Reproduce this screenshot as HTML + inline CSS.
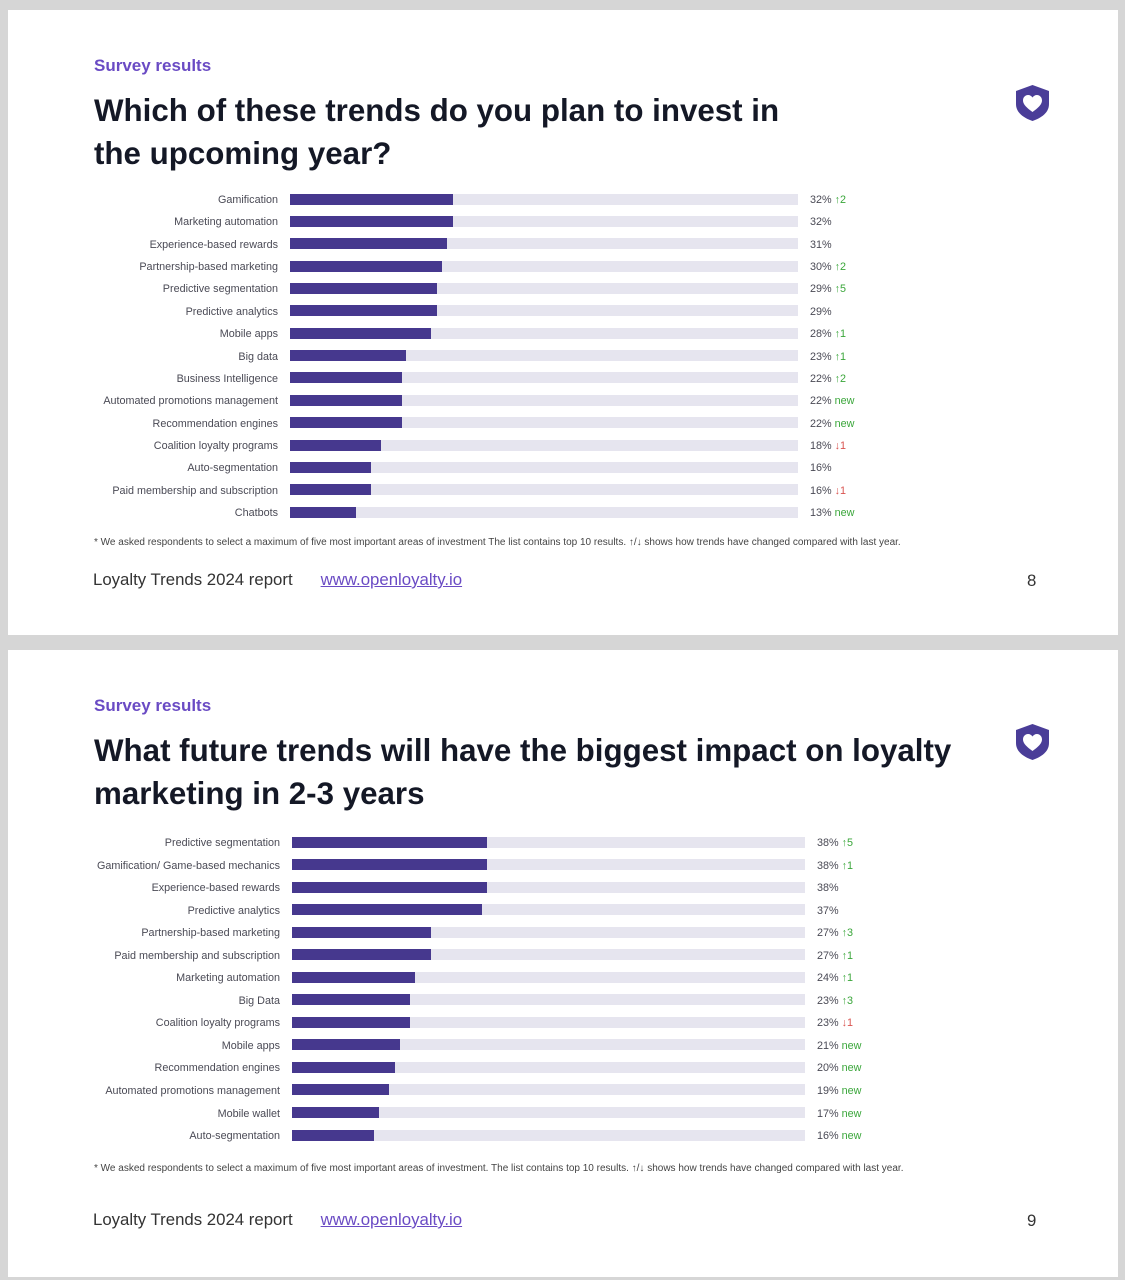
<!DOCTYPE html>
<html><head><meta charset="utf-8"><style>
*{margin:0;padding:0;box-sizing:border-box}
body{width:1125px;height:1280px;background:#d6d6d6;position:relative;overflow:hidden;font-family:"Liberation Sans",sans-serif}
.card{position:absolute;left:8px;width:1110px;background:#fff}
.a{position:absolute}
.sr{color:#6a4bc4;font-weight:bold;font-size:17px}
.t{color:#141826;font-weight:bold;font-size:31.3px;line-height:43px}
.r{position:absolute;height:14px;line-height:16px;font-size:10.8px;color:#4a4a55}
.r .l{position:absolute;right:0;text-align:right;white-space:nowrap}
.r .tr{position:absolute;top:1.5px;height:11px;background:#e6e5ef}
.r .b{position:absolute;left:0;top:0;height:11px;background:#46388e}
.r .v{position:absolute;white-space:nowrap}
.g{color:#3aa63a}.d{color:#d9534f}
.fn{font-size:10px;color:#444}
.ft{font-size:16.8px;color:#333}
.ft a{color:#6a4bc4;text-decoration:underline}
</style></head><body>
<div class="card" style="top:10px;height:625px"></div>
<div class="card" style="top:650px;height:627px"></div>

<div class="a sr" style="left:94px;top:56px">Survey results</div>
<div class="a t" style="left:94px;top:89px">Which of these trends do you plan to invest in<br>the upcoming year?</div>
<svg class="a" style="left:1015px;top:84px" width="35" height="38" viewBox="0 0 35 38"><path d="M17.5 1 L34 7 V20 C34 29 26 34 17.5 37 C9 34 1 29 1 20 V7 Z" fill="#4a3d98"/><path d="M17.5 28 C12 24 8 20.5 8 16.5 C8 13 10.5 11 13 11 C15 11 16.5 12 17.5 13.5 C18.5 12 20 11 22 11 C24.5 11 27 13 27 16.5 C27 20.5 23 24 17.5 28Z" fill="#fff"/></svg>

<div style="position:absolute;left:0;top:0">
<div class="r" style="top:192px;left:0;width:900px"><span class="l" style="right:622px">Gamification</span><span class="tr" style="left:290px;width:508px"><span class="b" style="width:163px"></span></span><span class="v" style="left:810px">32% <span class="g">↑2</span></span></div>
<div class="r" style="top:214.4px;left:0;width:900px"><span class="l" style="right:622px">Marketing automation</span><span class="tr" style="left:290px;width:508px"><span class="b" style="width:163px"></span></span><span class="v" style="left:810px">32%</span></div>
<div class="r" style="top:236.7px;left:0;width:900px"><span class="l" style="right:622px">Experience-based rewards</span><span class="tr" style="left:290px;width:508px"><span class="b" style="width:157px"></span></span><span class="v" style="left:810px">31%</span></div>
<div class="r" style="top:259.1px;left:0;width:900px"><span class="l" style="right:622px">Partnership-based marketing</span><span class="tr" style="left:290px;width:508px"><span class="b" style="width:152px"></span></span><span class="v" style="left:810px">30% <span class="g">↑2</span></span></div>
<div class="r" style="top:281.4px;left:0;width:900px"><span class="l" style="right:622px">Predictive segmentation</span><span class="tr" style="left:290px;width:508px"><span class="b" style="width:147px"></span></span><span class="v" style="left:810px">29% <span class="g">↑5</span></span></div>
<div class="r" style="top:303.8px;left:0;width:900px"><span class="l" style="right:622px">Predictive analytics</span><span class="tr" style="left:290px;width:508px"><span class="b" style="width:147px"></span></span><span class="v" style="left:810px">29%</span></div>
<div class="r" style="top:326.2px;left:0;width:900px"><span class="l" style="right:622px">Mobile apps</span><span class="tr" style="left:290px;width:508px"><span class="b" style="width:141px"></span></span><span class="v" style="left:810px">28% <span class="g">↑1</span></span></div>
<div class="r" style="top:348.5px;left:0;width:900px"><span class="l" style="right:622px">Big data</span><span class="tr" style="left:290px;width:508px"><span class="b" style="width:116px"></span></span><span class="v" style="left:810px">23% <span class="g">↑1</span></span></div>
<div class="r" style="top:370.9px;left:0;width:900px"><span class="l" style="right:622px">Business Intelligence</span><span class="tr" style="left:290px;width:508px"><span class="b" style="width:112px"></span></span><span class="v" style="left:810px">22% <span class="g">↑2</span></span></div>
<div class="r" style="top:393.2px;left:0;width:900px"><span class="l" style="right:622px">Automated promotions management</span><span class="tr" style="left:290px;width:508px"><span class="b" style="width:112px"></span></span><span class="v" style="left:810px">22% <span class="g">new</span></span></div>
<div class="r" style="top:415.6px;left:0;width:900px"><span class="l" style="right:622px">Recommendation engines</span><span class="tr" style="left:290px;width:508px"><span class="b" style="width:112px"></span></span><span class="v" style="left:810px">22% <span class="g">new</span></span></div>
<div class="r" style="top:438px;left:0;width:900px"><span class="l" style="right:622px">Coalition loyalty programs</span><span class="tr" style="left:290px;width:508px"><span class="b" style="width:91px"></span></span><span class="v" style="left:810px">18% <span class="d">↓1</span></span></div>
<div class="r" style="top:460.3px;left:0;width:900px"><span class="l" style="right:622px">Auto-segmentation</span><span class="tr" style="left:290px;width:508px"><span class="b" style="width:81px"></span></span><span class="v" style="left:810px">16%</span></div>
<div class="r" style="top:482.7px;left:0;width:900px"><span class="l" style="right:622px">Paid membership and subscription</span><span class="tr" style="left:290px;width:508px"><span class="b" style="width:81px"></span></span><span class="v" style="left:810px">16% <span class="d">↓1</span></span></div>
<div class="r" style="top:505px;left:0;width:900px"><span class="l" style="right:622px">Chatbots</span><span class="tr" style="left:290px;width:508px"><span class="b" style="width:66px"></span></span><span class="v" style="left:810px">13% <span class="g">new</span></span></div>
</div>
<div class="a fn" style="left:94px;top:537px">* We asked respondents to select a maximum of five most important areas of investment The list contains top 10 results. ↑/↓ shows how trends have changed compared with last year.</div>
<div class="a ft" style="left:93px;top:570px">Loyalty Trends 2024 report &nbsp;&nbsp;&nbsp;&nbsp;&nbsp;<a>www.openloyalty.io</a></div>
<div class="a ft" style="left:1027px;top:571px">8</div>

<div class="a sr" style="left:94px;top:696px">Survey results</div>
<div class="a t" style="left:94px;top:729px">What future trends will have the biggest impact on loyalty<br>marketing in 2-3 years</div>
<svg class="a" style="left:1015px;top:723px" width="35" height="38" viewBox="0 0 35 38"><path d="M17.5 1 L34 7 V20 C34 29 26 34 17.5 37 C9 34 1 29 1 20 V7 Z" fill="#4a3d98"/><path d="M17.5 28 C12 24 8 20.5 8 16.5 C8 13 10.5 11 13 11 C15 11 16.5 12 17.5 13.5 C18.5 12 20 11 22 11 C24.5 11 27 13 27 16.5 C27 20.5 23 24 17.5 28Z" fill="#fff"/></svg>

<div style="position:absolute;left:0;top:0">
<div class="r" style="top:835px;left:0;width:900px"><span class="l" style="right:620px">Predictive segmentation</span><span class="tr" style="left:292px;width:513px"><span class="b" style="width:195px"></span></span><span class="v" style="left:817px">38% <span class="g">↑5</span></span></div>
<div class="r" style="top:857.5px;left:0;width:900px"><span class="l" style="right:620px">Gamification/ Game-based mechanics</span><span class="tr" style="left:292px;width:513px"><span class="b" style="width:195px"></span></span><span class="v" style="left:817px">38% <span class="g">↑1</span></span></div>
<div class="r" style="top:880.1px;left:0;width:900px"><span class="l" style="right:620px">Experience-based rewards</span><span class="tr" style="left:292px;width:513px"><span class="b" style="width:195px"></span></span><span class="v" style="left:817px">38%</span></div>
<div class="r" style="top:902.6px;left:0;width:900px"><span class="l" style="right:620px">Predictive analytics</span><span class="tr" style="left:292px;width:513px"><span class="b" style="width:190px"></span></span><span class="v" style="left:817px">37%</span></div>
<div class="r" style="top:925.2px;left:0;width:900px"><span class="l" style="right:620px">Partnership-based marketing</span><span class="tr" style="left:292px;width:513px"><span class="b" style="width:139px"></span></span><span class="v" style="left:817px">27% <span class="g">↑3</span></span></div>
<div class="r" style="top:947.7px;left:0;width:900px"><span class="l" style="right:620px">Paid membership and subscription</span><span class="tr" style="left:292px;width:513px"><span class="b" style="width:139px"></span></span><span class="v" style="left:817px">27% <span class="g">↑1</span></span></div>
<div class="r" style="top:970.2px;left:0;width:900px"><span class="l" style="right:620px">Marketing automation</span><span class="tr" style="left:292px;width:513px"><span class="b" style="width:123px"></span></span><span class="v" style="left:817px">24% <span class="g">↑1</span></span></div>
<div class="r" style="top:992.8px;left:0;width:900px"><span class="l" style="right:620px">Big Data</span><span class="tr" style="left:292px;width:513px"><span class="b" style="width:118px"></span></span><span class="v" style="left:817px">23% <span class="g">↑3</span></span></div>
<div class="r" style="top:1015.3px;left:0;width:900px"><span class="l" style="right:620px">Coalition loyalty programs</span><span class="tr" style="left:292px;width:513px"><span class="b" style="width:118px"></span></span><span class="v" style="left:817px">23% <span class="d">↓1</span></span></div>
<div class="r" style="top:1037.9px;left:0;width:900px"><span class="l" style="right:620px">Mobile apps</span><span class="tr" style="left:292px;width:513px"><span class="b" style="width:108px"></span></span><span class="v" style="left:817px">21% <span class="g">new</span></span></div>
<div class="r" style="top:1060.4px;left:0;width:900px"><span class="l" style="right:620px">Recommendation engines</span><span class="tr" style="left:292px;width:513px"><span class="b" style="width:103px"></span></span><span class="v" style="left:817px">20% <span class="g">new</span></span></div>
<div class="r" style="top:1082.9px;left:0;width:900px"><span class="l" style="right:620px">Automated promotions management</span><span class="tr" style="left:292px;width:513px"><span class="b" style="width:97px"></span></span><span class="v" style="left:817px">19% <span class="g">new</span></span></div>
<div class="r" style="top:1105.5px;left:0;width:900px"><span class="l" style="right:620px">Mobile wallet</span><span class="tr" style="left:292px;width:513px"><span class="b" style="width:87px"></span></span><span class="v" style="left:817px">17% <span class="g">new</span></span></div>
<div class="r" style="top:1128px;left:0;width:900px"><span class="l" style="right:620px">Auto-segmentation</span><span class="tr" style="left:292px;width:513px"><span class="b" style="width:82px"></span></span><span class="v" style="left:817px">16% <span class="g">new</span></span></div>
</div>
<div class="a fn" style="left:94px;top:1163px">* We asked respondents to select a maximum of five most important areas of investment. The list contains top 10 results. ↑/↓ shows how trends have changed compared with last year.</div>
<div class="a ft" style="left:93px;top:1210px">Loyalty Trends 2024 report &nbsp;&nbsp;&nbsp;&nbsp;&nbsp;<a>www.openloyalty.io</a></div>
<div class="a ft" style="left:1027px;top:1211px">9</div>
</body></html>
